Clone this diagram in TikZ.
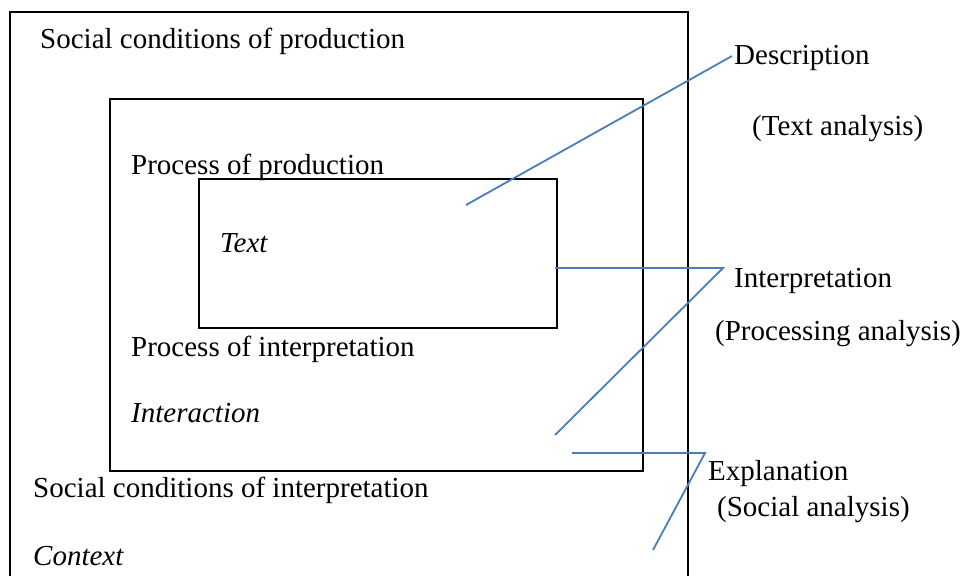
\documentclass[tikz,border=0pt]{standalone}
\usepackage{fontspec}
\setmainfont{Liberation Serif}
\definecolor{linkblue}{RGB}{74,126,187}
\begin{document}
\begin{tikzpicture}[x=1pt,y=-1pt,
  lbl/.style={inner sep=0pt,anchor=base west,font=\fontsize{29}{34}\selectfont},
  ilbl/.style={lbl,font=\fontsize{29}{34}\selectfont\itshape},
  frame/.style={draw=black,line width=1.5pt},
  link/.style={draw=linkblue,line width=1.8pt}]
\useasboundingbox (0,0) rectangle (973,575);
\clip (0,0) rectangle (973,575);
% boxes
\draw[frame] (10,590) -- (10,12) -- (688,12) -- (688,590);
\draw[frame] (110,99) rectangle (643,471);
\draw[frame] (199,179) rectangle (557,328);
% labels
\node[lbl] (scp) at (40,49) {Social conditions of production};
\node[lbl] (pop) at (131,174) {Process of production};
\node[ilbl] (txt) at (220,252) {Text};
\node[lbl] (poi) at (131,356) {Process of interpretation};
\node[ilbl] (int) at (131,422) {Interaction};
\node[lbl] (sci) at (33,497) {Social conditions of interpretation};
\node[ilbl] (ctx) at (33,565) {Context};
\node[lbl] (des) at (734,65) {Description};
\node[lbl] (tan) at (752,135) {(Text analysis)};
\node[lbl] (itp) at (734,287) {Interpretation};
\node[lbl] (pan) at (715,340) {(Processing analysis)};
\node[lbl] (exp) at (708,480) {Explanation};
\node[lbl] (san) at (717,516) {(Social analysis)};
% connector points
\coordinate (d1) at (466,205);
\coordinate (d2) at (732,56);
\coordinate (i1) at (555,268);
\coordinate (i2) at (723,268);
\coordinate (i3) at (555,435);
\coordinate (e1) at (572,453);
\coordinate (e2) at (705,453);
\coordinate (e3) at (653,550);
\draw[link] (d1) -- (d2);
\draw[link] (i1) -- (i2) -- (i3);
\draw[link] (e1) -- (e2) -- (e3);
\end{tikzpicture}
\end{document}
